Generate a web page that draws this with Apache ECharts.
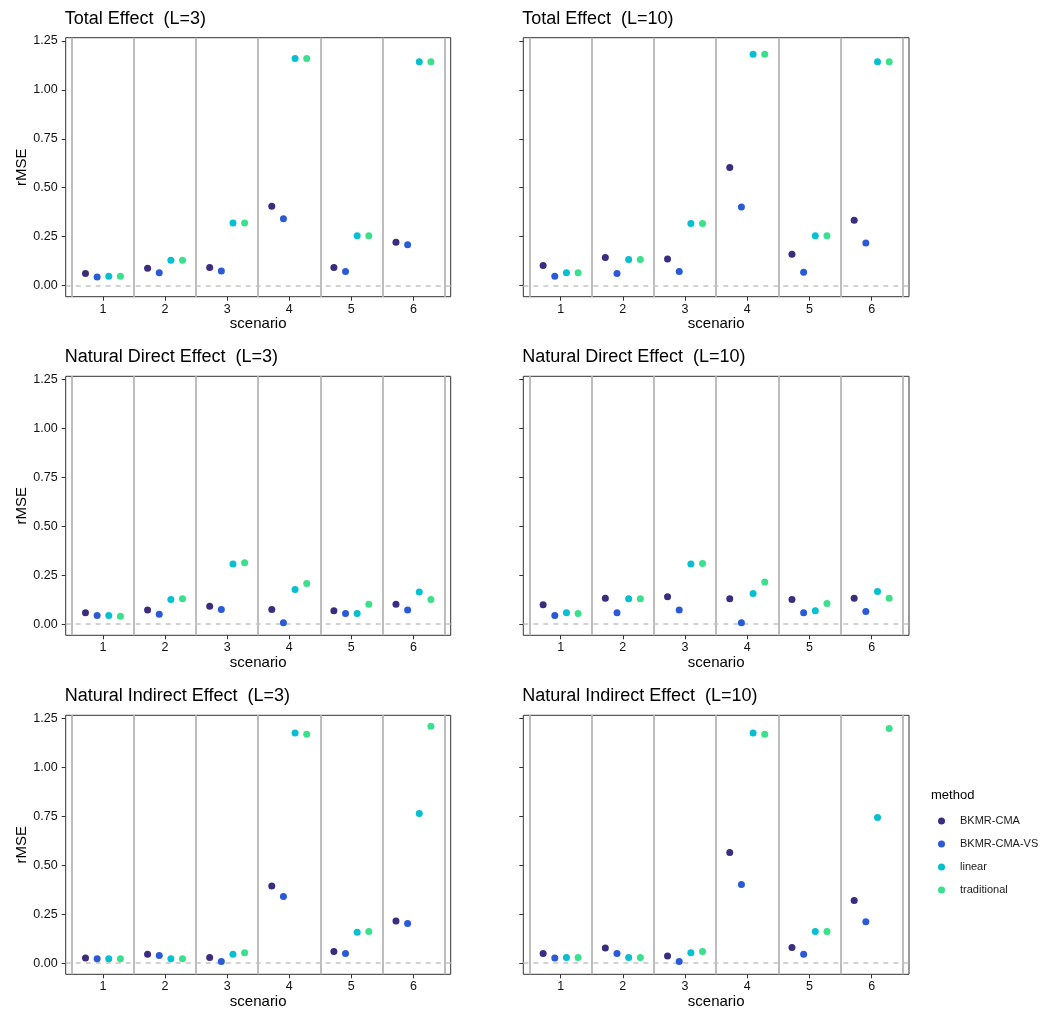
<!DOCTYPE html>
<html>
<head>
<meta charset="utf-8">
<script src="https://cdn.jsdelivr.net/npm/echarts@6/dist/echarts.min.js"></script>
<style>
  html, body { margin: 0; padding: 0; background: #ffffff; }
  #chart { width: 1050px; height: 1021px; }
</style>
</head>
<body>
<div id="chart"></div>
<script>
// ---------- data ----------
const methods = ['BKMR-CMA', 'BKMR-CMA-VS', 'linear', 'traditional'];
const scenarios = [1, 2, 3, 4, 5, 6];
const yTicks = [0, 0.25, 0.5, 0.75, 1.0, 1.25];
const panelTitles = [
  'Total Effect  (L=3)', 'Total Effect  (L=10)',
  'Natural Direct Effect  (L=3)', 'Natural Direct Effect  (L=10)',
  'Natural Indirect Effect  (L=3)', 'Natural Indirect Effect  (L=10)'
];

// Total Effect, L=3
const TE3_CMA   = [0.061, 0.089, 0.092, 0.405, 0.092, 0.221];
const TE3_VS    = [0.044, 0.065, 0.075, 0.341, 0.072, 0.208];
const TE3_LIN   = [0.048, 0.129, 0.320, 1.161, 0.255, 1.144];
const TE3_TRAD  = [0.048, 0.129, 0.320, 1.161, 0.255, 1.144];
// Total Effect, L=10
const TE10_CMA  = [0.102, 0.143, 0.136, 0.603, 0.160, 0.334];
const TE10_VS   = [0.048, 0.061, 0.072, 0.402, 0.068, 0.218];
const TE10_LIN  = [0.065, 0.133, 0.317, 1.182, 0.255, 1.144];
const TE10_TRAD = [0.065, 0.133, 0.317, 1.182, 0.255, 1.144];
// Natural Direct Effect, L=3
const NDE3_CMA  = [0.058, 0.072, 0.092, 0.075, 0.068, 0.102];
const NDE3_VS   = [0.044, 0.051, 0.075, 0.007, 0.055, 0.072];
const NDE3_LIN  = [0.044, 0.126, 0.307, 0.177, 0.055, 0.164];
const NDE3_TRAD = [0.041, 0.130, 0.314, 0.208, 0.102, 0.126];
// Natural Direct Effect, L=10
const NDE10_CMA  = [0.099, 0.133, 0.140, 0.130, 0.126, 0.133];
const NDE10_VS   = [0.044, 0.058, 0.072, 0.007, 0.058, 0.065];
const NDE10_LIN  = [0.058, 0.130, 0.307, 0.157, 0.068, 0.167];
const NDE10_TRAD = [0.055, 0.130, 0.310, 0.215, 0.106, 0.133];
// Natural Indirect Effect, L=3
const NIE3_CMA  = [0.026, 0.046, 0.029, 0.395, 0.060, 0.216];
const NIE3_VS   = [0.022, 0.039, 0.009, 0.341, 0.049, 0.203];
const NIE3_LIN  = [0.022, 0.022, 0.046, 1.177, 0.158, 0.765];
const NIE3_TRAD = [0.022, 0.022, 0.053, 1.170, 0.162, 1.211];
// Natural Indirect Effect, L=10
const NIE10_CMA  = [0.049, 0.077, 0.036, 0.565, 0.080, 0.320];
const NIE10_VS   = [0.026, 0.049, 0.009, 0.402, 0.046, 0.211];
const NIE10_LIN  = [0.029, 0.029, 0.053, 1.177, 0.162, 0.744];
const NIE10_TRAD = [0.029, 0.029, 0.060, 1.170, 0.162, 1.199];

const panels = [
  [TE3_CMA, TE3_VS, TE3_LIN, TE3_TRAD],
  [TE10_CMA, TE10_VS, TE10_LIN, TE10_TRAD],
  [NDE3_CMA, NDE3_VS, NDE3_LIN, NDE3_TRAD],
  [NDE10_CMA, NDE10_VS, NDE10_LIN, NDE10_TRAD],
  [NIE3_CMA, NIE3_VS, NIE3_LIN, NIE3_TRAD],
  [NIE10_CMA, NIE10_VS, NIE10_LIN, NIE10_TRAD]
];

// ---------- styling / layout ----------
const colors = ['#3b2c7e', '#2b5ad6', '#06bfd0', '#3ae08b'];
const dodge = [-0.28125, -0.09375, 0.09375, 0.28125];
const FONT = '"Liberation Sans", Arial, Helvetica, sans-serif';
const colLeft = [65.7, 523.3];
const colWidth = [385, 385.7];
const rowTop = [37.7, 376.3, 715.3];
const panelH = 259;
const separators = [0.5, 1.5, 2.5, 3.5, 4.5, 5.5, 6.5];

const grid = [], xAxis = [], yAxis = [], series = [], title = [];

panels.forEach((pdata, g) => {
  const row = Math.floor(g / 2), col = g % 2;
  grid.push({
    left: colLeft[col], top: rowTop[row], width: colWidth[col], height: panelH,
    show: true, borderColor: '#333333', borderWidth: 1, backgroundColor: 'transparent'
  });
  title.push({
    text: panelTitles[g], left: colLeft[col] - 1, top: rowTop[row] - 28, padding: 0,
    textStyle: { fontFamily: FONT, fontSize: 18, fontWeight: 'normal', color: '#000' }
  });
  xAxis.push({
    type: 'value', gridIndex: g, min: 0.4, max: 6.6, position: 'bottom',
    name: 'scenario', nameLocation: 'middle', nameGap: 18,
    nameTextStyle: { fontFamily: FONT, fontSize: 15, color: '#000' },
    axisLine: { show: false, onZero: false },
    axisTick: { show: true, customValues: scenarios, length: 4, lineStyle: { color: '#333', width: 1 } },
    axisLabel: { show: true, customValues: scenarios, margin: 6, fontFamily: FONT, fontSize: 12.5, color: '#111',
      formatter: v => String(Math.round(v)) },
    splitLine: { show: false }
  });
  yAxis.push({
    type: 'value', gridIndex: g, min: -0.057, max: 1.267, position: 'left',
    name: col === 0 ? 'rMSE' : '', nameLocation: 'middle', nameGap: 36,
    nameTextStyle: { fontFamily: FONT, fontSize: 15, color: '#000' },
    axisLine: { show: false, onZero: false },
    axisTick: { show: true, customValues: yTicks, length: 4, lineStyle: { color: '#333', width: 1 } },
    axisLabel: { show: col === 0, customValues: yTicks, margin: 8, fontFamily: FONT, fontSize: 12.5, color: '#111',
      formatter: v => v.toFixed(2) },
    splitLine: { show: false }
  });
  pdata.forEach((vals, m) => {
    const s = {
      name: methods[m], type: 'scatter', xAxisIndex: g, yAxisIndex: g,
      symbol: 'circle', symbolSize: 7, z: 5,
      itemStyle: { color: colors[m], opacity: 1 },
      data: vals.map((v, i) => [scenarios[i] + dodge[m], v]),
      silent: true
    };
    if (m === 0) {
      s.markLine = {
        silent: true, symbol: ['none', 'none'], animation: false, z: 2,
        label: { show: false },
        data: separators.map(x => ({ xAxis: x, lineStyle: { color: '#bdbdbd', width: 2, type: 'solid' } }))
          .concat([{ yAxis: 0, lineStyle: { color: '#c4c4c4', width: 1.5, type: [5, 5] } }])
      };
    }
    series.push(s);
  });
});

title.push({
  text: 'method', left: 931, top: 789, padding: 0,
  textStyle: { fontFamily: FONT, fontSize: 13, fontWeight: 'normal', color: '#000' }
});

const option = {
  animation: false,
  backgroundColor: '#ffffff',
  title: title,
  grid: grid,
  xAxis: xAxis,
  yAxis: yAxis,
  legend: {
    orient: 'vertical', left: 938, top: 815, padding: 0,
    itemWidth: 7, itemHeight: 7, itemGap: 11, icon: 'circle',
    selectedMode: false,
    data: methods,
    textStyle: { fontFamily: FONT, fontSize: 11, color: '#1a1a1a', lineHeight: 12, padding: [0, 0, 0, 10] }
  },
  series: series
};

const chart = echarts.init(document.getElementById('chart'), null, { renderer: 'canvas' });
chart.setOption(option);
</script>
</body>
</html>
